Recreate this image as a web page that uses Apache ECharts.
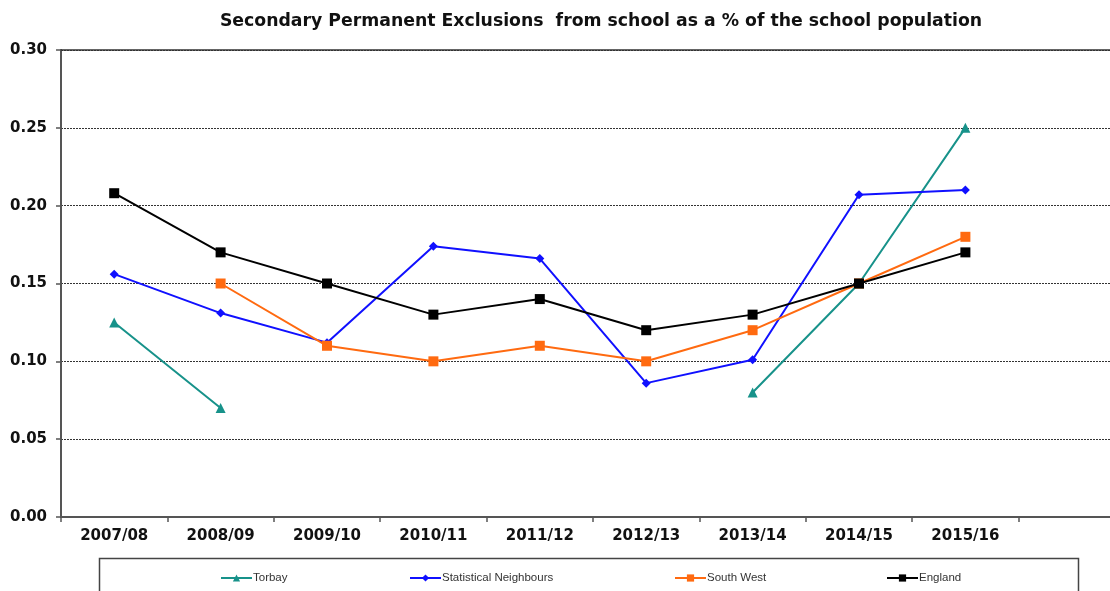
<!DOCTYPE html>
<html>
<head>
<meta charset="utf-8">
<script src="https://cdn.jsdelivr.net/npm/echarts@6/dist/echarts.min.js"></script>
<style>
html,body{margin:0;padding:0;background:#fff;overflow:hidden;}
#wrap{width:1110px;height:591px;overflow:hidden;}
/* a bit wider than the window so the plot runs past the right edge, as in the original */
#chart{width:1140px;height:591px;}
</style>
</head>
<body>
<div id="wrap"><div id="chart"></div></div>
<script>
// categories (last slot is left empty, like the original)
var years = ['2007/08','2008/09','2009/10','2010/11','2011/12','2012/13','2013/14','2014/15','2015/16',''];
var torbay = [0.125, 0.07, null, null, null, null, 0.08, 0.15, 0.25, null];
var statNeighbours = [0.156, 0.131, 0.112, 0.174, 0.166, 0.086, 0.101, 0.207, 0.210, null];
var southWest = [null, 0.15, 0.11, 0.10, 0.11, 0.10, 0.12, 0.15, 0.18, null];
var england = [0.208, 0.17, 0.15, 0.13, 0.14, 0.12, 0.13, 0.15, 0.17, null];

var chart = echarts.init(document.getElementById('chart'));

function mkSeries(name, data, color, symbol, size){
	return {
		name: name,
		type: 'line',
		data: data,
		symbol: symbol,
		symbolSize: size,
		connectNulls: false,
		lineStyle: {color: color, width: 2},
		itemStyle: {color: color},
		emphasis: {disabled: true},
		animation: false
	};
}

var legendStyle = {fontFamily: 'Liberation Sans', fontSize: 11.5, color: '#333', padding: [0, 0, 0, -4]};
function mkLegend(name, x){
	return {
		data: [name], left: x, top: 572, padding: 0,
		itemWidth: 31, itemHeight: 9,
		lineStyle: {width: 2},
		textStyle: legendStyle
	};
}

var option = {
	backgroundColor: '#fff',
	animation: false,
	title: {
		text: 'Secondary Permanent Exclusions  from school as a % of the school population',
		left: 596,
		textAlign: 'center',
		top: 8,
		textStyle: {fontFamily: 'DejaVu Sans', fontWeight: 'bold', fontSize: 17.3, color: '#111'}
	},
	legend: [
		mkLegend('Torbay', 220),
		mkLegend('Statistical Neighbours', 409),
		mkLegend('South West', 674),
		mkLegend('England', 886)
	],
	grid: {left: 61, top: 50, width: 1064, height: 467, containLabel: false},
	graphic: [
		{type: 'rect', shape: {x: 99.5, y: 558.5, width: 979, height: 50},
			style: {fill: 'none', stroke: '#444', lineWidth: 1.5}, silent: true}
	],
	xAxis: [
		{
			type: 'category',
			data: years,
			boundaryGap: true,
			axisLine: {lineStyle: {color: '#555', width: 2}},
			axisTick: {show: true, length: 5, lineStyle: {color: '#555', width: 1.5}},
			axisLabel: {interval: 0, margin: 12, fontFamily: 'DejaVu Sans', fontWeight: 'bold', fontSize: 15, color: '#111'},
			splitLine: {show: false}
		},
		{
			type: 'category',
			position: 'top',
			data: years,
			axisLine: {lineStyle: {color: '#333', width: 1.5}},
			axisTick: {show: false},
			axisLabel: {show: false}
		}
	],
	yAxis: {
		type: 'value',
		min: 0,
		max: 0.3,
		interval: 0.05,
		axisLine: {show: true, lineStyle: {color: '#555', width: 2}},
		axisTick: {show: true, length: 5, lineStyle: {color: '#555', width: 1.5}},
		axisLabel: {
			margin: 14,
			fontFamily: 'DejaVu Sans', fontWeight: 'bold', fontSize: 15, color: '#111',
			formatter: function(v){ return v.toFixed(2); }
		},
		splitLine: {show: true, lineStyle: {color: '#333', type: [2, 1], width: 1}}
	},
	series: [
		mkSeries('Torbay', torbay, '#17928a', 'triangle', 10),
		mkSeries('Statistical Neighbours', statNeighbours, '#1010ff', 'diamond', 9),
		mkSeries('South West', southWest, '#ff6a10', 'rect', 10),
		mkSeries('England', england, '#000000', 'rect', 10)
	]
};
chart.setOption(option);
</script>
</body>
</html>
